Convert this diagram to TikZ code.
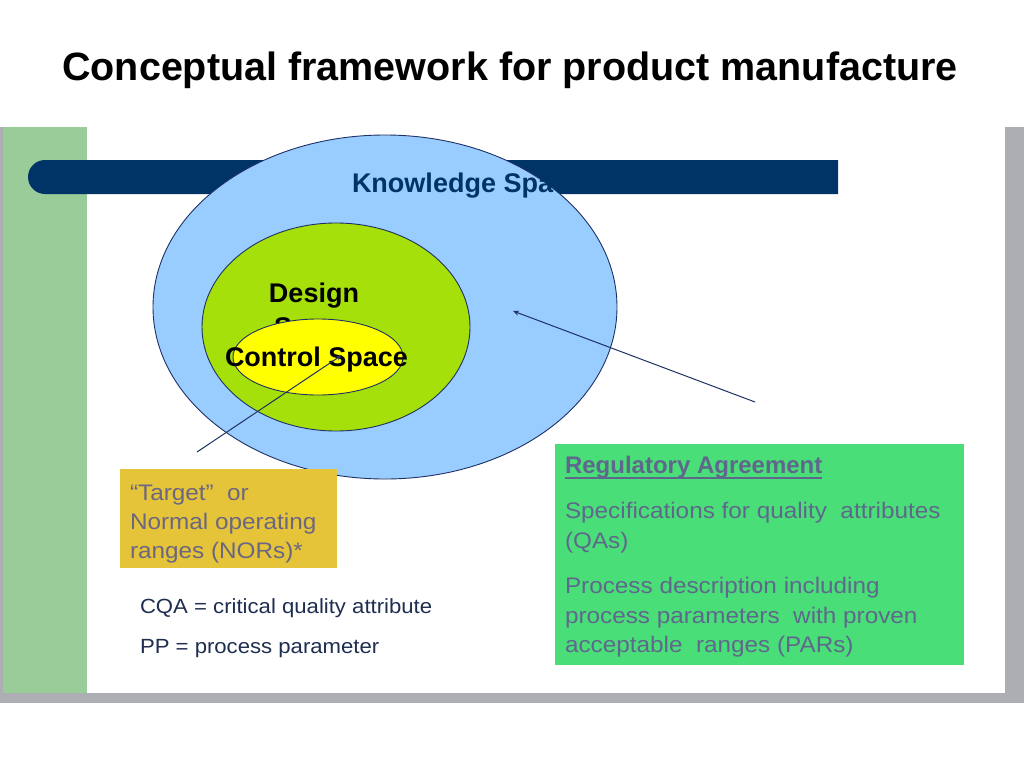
\documentclass[tikz,border=0pt]{standalone}
\usepackage{fontspec}
\setmainfont{Liberation Sans}
\newfontfamily\widefont[FakeStretch=1.08]{Liberation Sans}
\usetikzlibrary{shapes.geometric,arrows.meta,calc}
\definecolor{navy}{RGB}{0,51,102}
\definecolor{ksblue}{RGB}{153,204,255}
\definecolor{dsgreen}{RGB}{166,224,10}
\definecolor{csyellow}{RGB}{255,255,0}
\definecolor{stripgreen}{RGB}{153,204,153}
\definecolor{shadowgray}{RGB}{172,174,180}
\definecolor{goldbox}{RGB}{229,196,58}
\definecolor{greenbox}{RGB}{74,222,120}
\definecolor{boxtext}{RGB}{95,104,140}
\definecolor{goldtext}{RGB}{108,103,128}
\definecolor{legendtext}{RGB}{30,45,80}
\definecolor{outlineblue}{RGB}{30,50,100}
\newcommand{\fsz}[1]{\fontsize{#1}{#1}\selectfont}
\begin{document}
\begin{tikzpicture}[x=1pt,y=-1pt,
  txt/.style={anchor=base west, inner sep=0pt, outer sep=0pt},
  ctxt/.style={anchor=base, inner sep=0pt, outer sep=0pt},
  ell/.style={ellipse, draw=outlineblue, line width=0.9pt, inner sep=0pt},
  conn/.style={draw=outlineblue, line width=1pt, -{Stealth[length=6pt,width=5pt]}},
  bigbold/.style={font=\bfseries\fsz{27}},
  boxfont/.style={font=\widefont\fsz{22.5}},
  legfont/.style={font=\widefont\fsz{20.5}}]
\useasboundingbox (0,0) rectangle (1024,768);
\fill[white] (0,0) rectangle (1024,768);
% slide frame
\fill[shadowgray] (0,127) rectangle (1024,703);
\fill[white] (3,127) rectangle (1005,693);
\fill[stripgreen] (3,127) rectangle (87,693);
% title
\node[ctxt, font=\bfseries\fsz{39.5}] (title) at (510,80) {Conceptual framework for product manufacture};
% dark bar
\fill[navy] (838,160) -- (45,160) arc[start angle=270, end angle=90, radius=17] -- (838,194) -- cycle;
% knowledge space
\node[ell, fill=ksblue, minimum width=464pt, minimum height=344pt] (ks) at (385,307) {};
\node[txt, bigbold, text=navy] (kst) at (352,192) {Knowledge Space};
% design space
\node[ell, fill=dsgreen, minimum width=268pt, minimum height=208pt] (ds) at (336,327) {};
\node[ctxt, bigbold] (dst1) at (314,302) {Design};
\node[ctxt, bigbold] (dst2) at (314,336) {Space};
% control space
\node[ell, fill=csyellow, minimum width=170pt, minimum height=76pt] (cs) at (318,357) {};
\node[txt, bigbold] (cst) at (225,366) {Control Space};
% connectors
\coordinate (aonetail) at (197,452);
\coordinate (aonehead) at (342,355);
\coordinate (atwotail) at (755,402);
\coordinate (atwohead) at (513,311);
\draw[conn] (aonetail) -- (aonehead);
\draw[conn] (atwotail) -- (atwohead);
% NOR box
\node[fill=goldbox, minimum width=217pt, minimum height=99pt, inner sep=0pt, anchor=north west] (nor) at (120,469) {};
\node[txt, boxfont, text=goldtext] (norone) at (130,500) {“Target”\ \ or};
\node[txt, boxfont, text=goldtext] (nortwo) at (130,529) {Normal operating};
\node[txt, boxfont, text=goldtext] (northree) at (130,558) {ranges (NORs)*};
% regulatory box
\node[fill=greenbox, minimum width=409pt, minimum height=221pt, inner sep=0pt, anchor=north west] (reg) at (555,444) {};
\node[txt, font=\bfseries\fsz{24}, text=boxtext] (regt) at (565,473) {Regulatory Agreement};
\draw[boxtext, line width=1.6pt] ($(regt.base west)+(0,5)$) -- ($(regt.base east)+(0,5)$);
\node[txt, boxfont, text=boxtext] (spone) at (565,518) {Specifications for quality\ \ attributes};
\node[txt, boxfont, text=boxtext] (sptwo) at (565,548) {(QAs)};
\node[txt, boxfont, text=boxtext] (prone) at (565,593) {Process description including};
\node[txt, boxfont, text=boxtext] (prtwo) at (565,623) {process parameters\ \ with proven};
\node[txt, boxfont, text=boxtext] (prthree) at (565,652) {acceptable\ \ ranges (PARs)};
% legend
\node[txt, legfont, text=legendtext] (cqa) at (140,613) {CQA = critical quality attribute};
\node[txt, legfont, text=legendtext] (pp) at (140,653) {PP = process parameter};
\end{tikzpicture}
\end{document}
